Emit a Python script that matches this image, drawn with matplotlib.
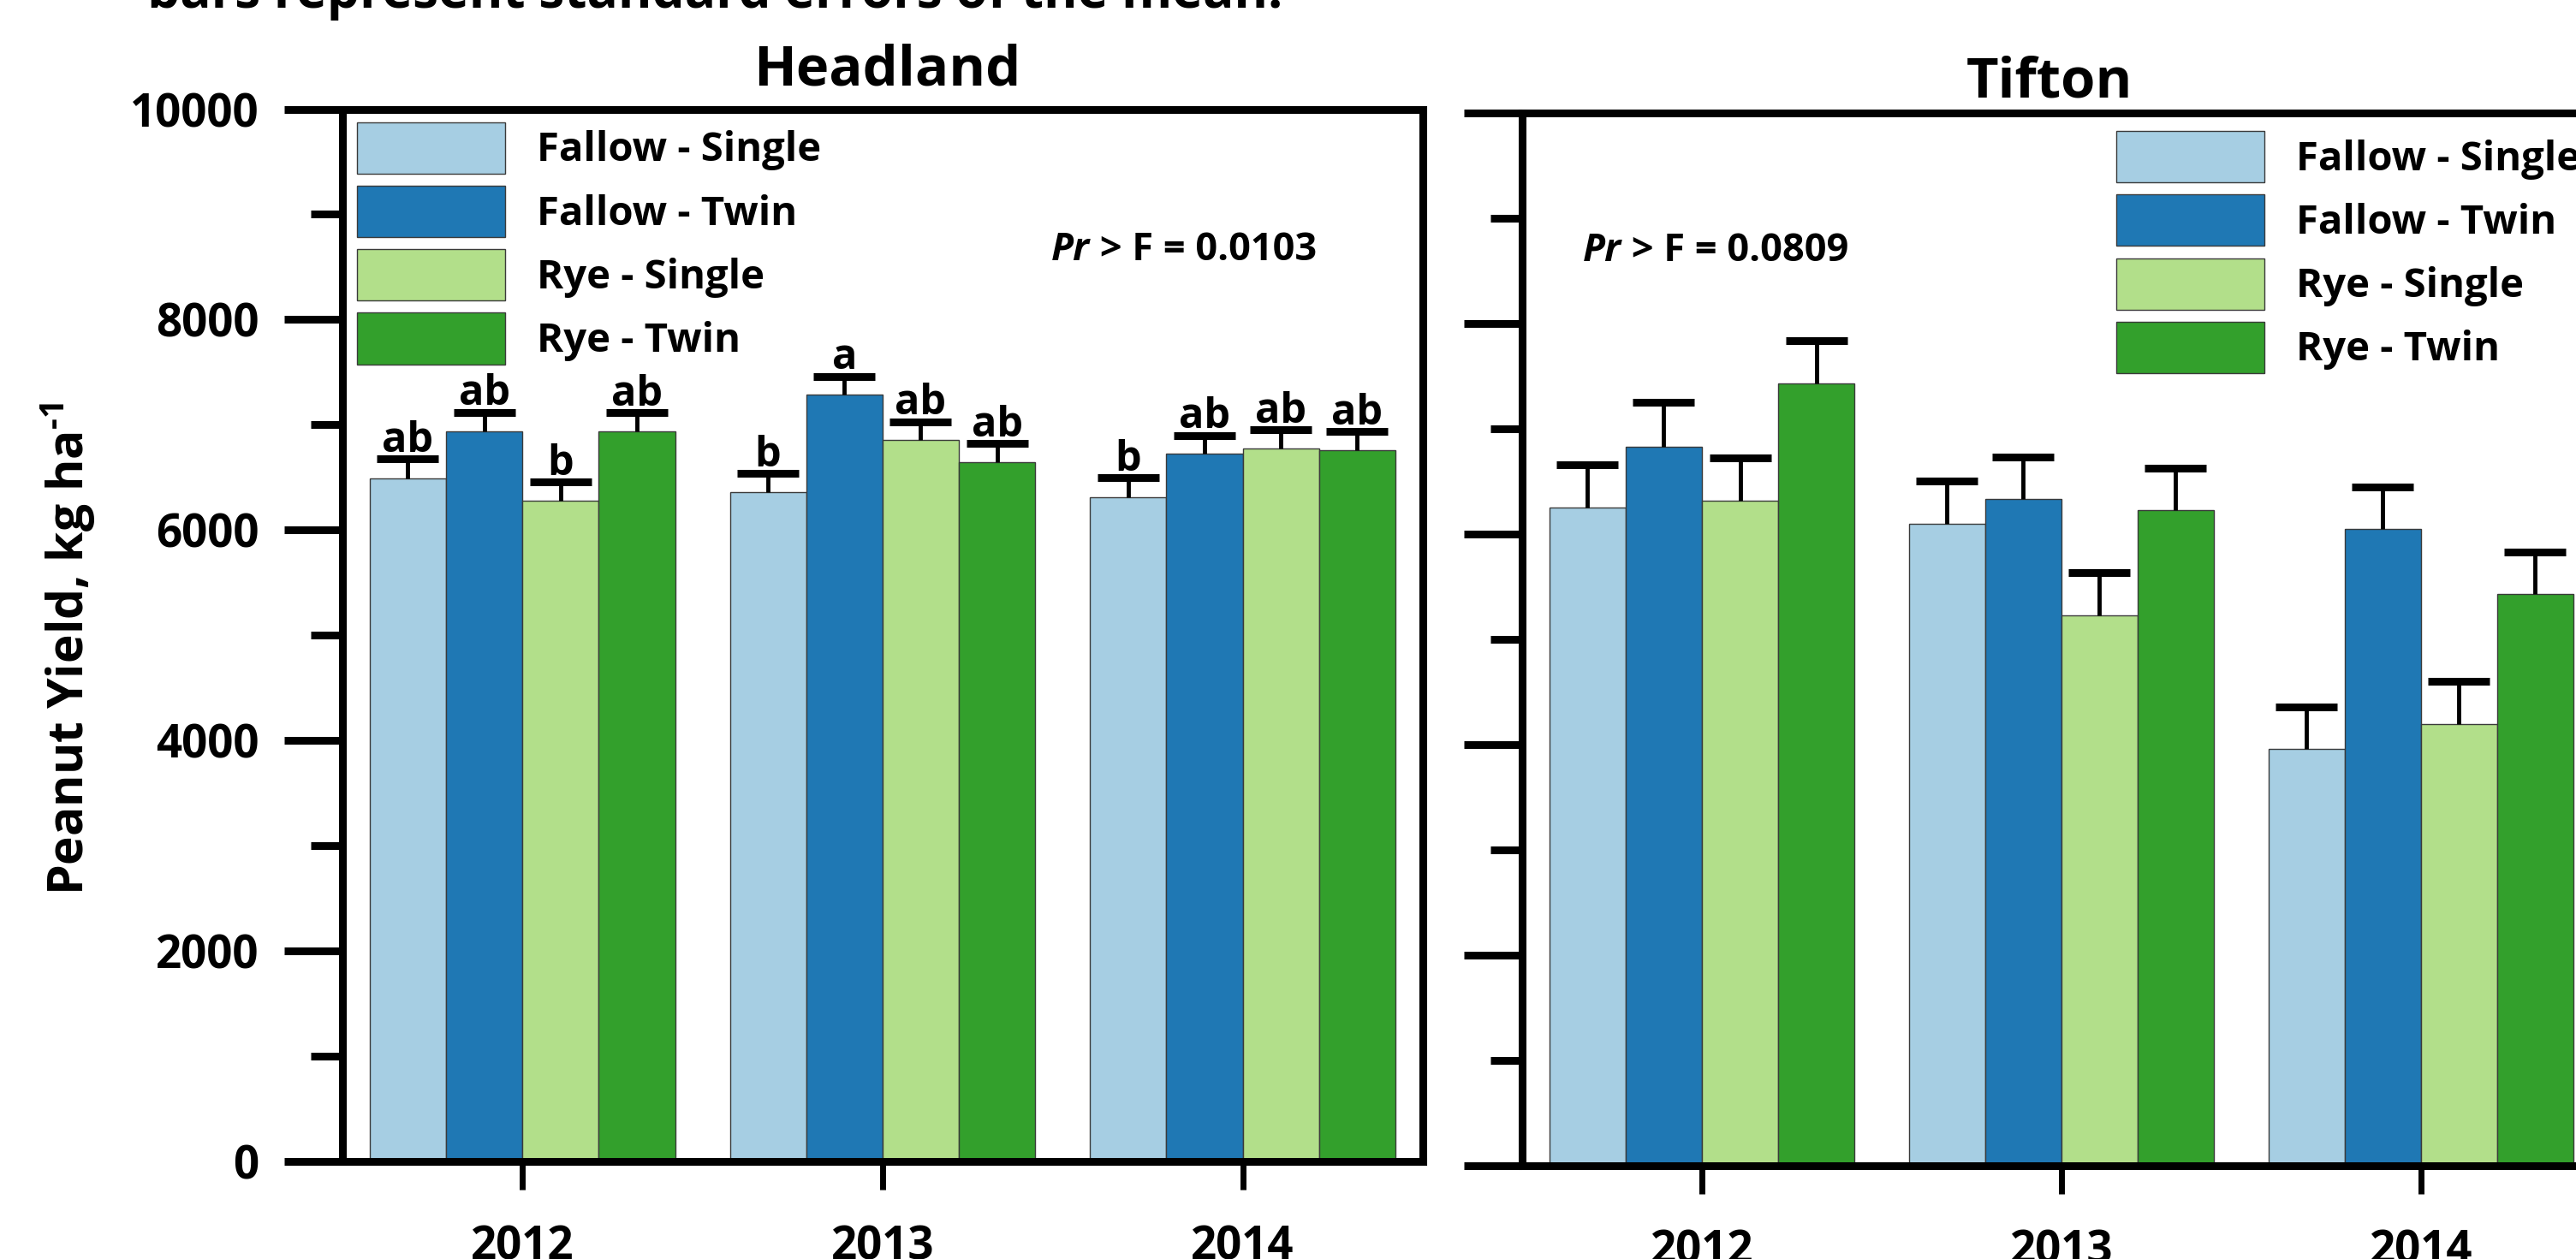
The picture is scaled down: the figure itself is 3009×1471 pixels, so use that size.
import numpy as np
import matplotlib
matplotlib.use('Agg')
import matplotlib.pyplot as plt
from matplotlib.patches import Patch
from matplotlib.ticker import MultipleLocator

plt.rcParams['font.family'] = ['Open Sans', 'DejaVu Sans']
plt.rcParams['font.weight'] = 'bold'
plt.rcParams['mathtext.fontset'] = 'custom'
plt.rcParams['mathtext.rm'] = 'Open Sans:bold'
plt.rcParams['mathtext.default'] = 'rm'

years = ['2012', '2013', '2014']
treatments = ['Fallow - Single', 'Fallow - Twin', 'Rye - Single', 'Rye - Twin']
colors = ['#a6cee3', '#1f78b4', '#b2df8a', '#33a02c']

# mean yield (kg/ha) per treatment, by year
headland_yield = [
    [6490, 6360, 6315],
    [6935, 7285, 6725],
    [6280, 6855, 6775],
    [6935, 6645, 6755],
]
headland_se = [
    [187, 176, 182],
    [184, 176, 176],
    [176, 176, 176],
    [178, 176, 182],
]
headland_letters = [
    ['ab', 'b', 'b'],
    ['ab', 'a', 'ab'],
    ['b', 'ab', 'ab'],
    ['ab', 'ab', 'ab'],
]

tifton_yield = [
    [6250, 6095, 3955],
    [6830, 6335, 6045],
    [6320, 5230, 4195],
    [7430, 6225, 5430],
]
tifton_se = [
    [407, 407, 404],
    [420, 401, 401],
    [407, 404, 404],
    [406, 401, 401],
]

headland_p = 'Pr > F = 0.0103'
tifton_p = 'Pr > F = 0.0809'

BAR_W = 0.212


def draw_panel(ax, means, errs, letters, ptext, pxy, leg_anchor, show_labels=True):
    x = np.arange(len(years))
    for i in range(len(treatments)):
        xi = x + (i - 1.5) * BAR_W
        m = np.array(means[i])
        e = np.array(errs[i])
        ax.bar(xi, m, BAR_W, color=colors[i], edgecolor='#3a3a3a', linewidth=1.0, zorder=2)
        ax.errorbar(xi, m, yerr=[np.zeros_like(e), e], fmt='none', ecolor='black',
                    elinewidth=3.5, capsize=0, zorder=3)
        tops = m + e
        ax.plot(xi, tops, ls='none', marker='_', ms=52, mew=6.5, color='black', zorder=3)
        if letters:
            for j in range(len(x)):
                ax.annotate(letters[i][j], (xi[j], tops[j]), xytext=(0, 6),
                            textcoords='offset points', ha='center', va='baseline',
                            fontsize=35, fontweight='bold')

    ax.set_xlim(-0.5, 2.5)
    ax.set_ylim(0, 10000)
    ax.set_xticks(x, years)
    ax.yaxis.set_major_locator(MultipleLocator(2000))
    ax.yaxis.set_minor_locator(MultipleLocator(1000))
    for s in ax.spines.values():
        s.set_linewidth(6.5)
    ax.tick_params(axis='y', which='major', direction='out', length=49, width=6.5,
                   labelsize=38, pad=21, labelleft=show_labels)
    ax.tick_params(axis='y', which='minor', direction='out', length=26.6, width=6.5)
    ax.tick_params(axis='x', direction='out', length=24, width=5, labelsize=38, pad=29)

    # p-value: italic "Pr" followed by the rest of the statement
    pr = ax.text(pxy[0], pxy[1], ptext[:2], style='italic', fontweight='bold',
                 fontsize=32.5, va='baseline', ha='left')
    ax.annotate(ptext[2:], xy=(1, 0), xycoords=pr, va='bottom', ha='left',
                fontsize=32.5, fontweight='bold')

    handles = [Patch(facecolor=c, edgecolor='#3a3a3a', linewidth=1.0) for c in colors]
    ax.legend(handles, treatments, loc='upper left', bbox_to_anchor=leg_anchor,
              frameon=False, fontsize=34, handlelength=3.67, handleheight=1.58,
              handletextpad=0.78, labelspacing=0.30, borderpad=0, borderaxespad=0)


fig = plt.figure(figsize=(30.09, 14.71), dpi=100)
ax1 = fig.add_axes([0.1329, 0.0775, 0.4194, 0.8358])
ax2 = fig.add_axes([0.5909, 0.0743, 0.4187, 0.8358])

draw_panel(ax1, headland_yield, headland_se, headland_letters, headland_p,
           (1.468, 8564), (0.0135, 0.9876))
draw_panel(ax2, tifton_yield, tifton_se, None, tifton_p,
           (-0.331, 8595), (0.5508, 0.983), show_labels=False)

fig.text(1036 / 3009, 1 - 99 / 1471, 'Headland', ha='center', va='baseline', fontsize=47)
fig.text(2394 / 3009, 1 - 113 / 1471, 'Tifton', ha='center', va='baseline', fontsize=47)
fig.text(172 / 3009, 1 - 9 / 1471, 'bars represent standard errors of the mean.',
         ha='left', va='baseline', fontsize=43.5)
fig.text(80 / 3009, 1 - 758 / 1471, r'Peanut Yield, kg ha$^{\text{-1}}$', rotation=90,
         ha='center', va='center', fontsize=41)

fig.savefig('out.png', dpi=100)
